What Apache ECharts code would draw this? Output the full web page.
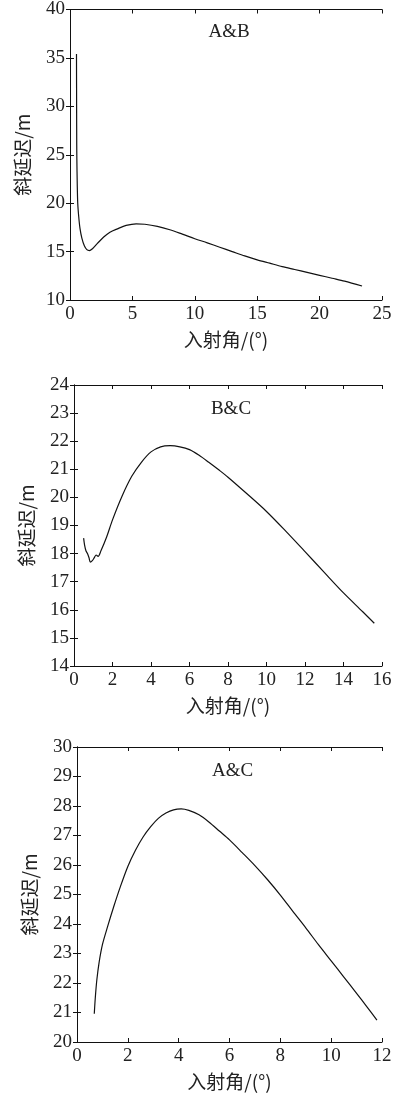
<!DOCTYPE html>
<html>
<head>
<meta charset="utf-8">
<script src="https://cdn.jsdelivr.net/npm/echarts@6/dist/echarts.min.js"></script>
<style>
  html, body { margin: 0; padding: 0; background: #fff; }
  #chart { width: 397px; height: 1094px; }
</style>
</head>
<body>
<div id="chart"></div>
<script>
// A&B
const abX = [0.52, 0.53, 0.54, 0.55, 0.58, 0.62, 0.7, 0.8, 0.95, 1.15, 1.35, 1.55, 1.8, 2.2, 2.7, 3.2, 3.8, 4.5, 5.3, 6.0, 7.0, 8.0, 9.0, 10.0, 11.0, 12.0, 13.0, 14.0, 15.0, 16.0, 17.0, 18.0, 19.0, 20.0, 21.0, 22.0, 23.4];
const abY = [35.4, 30.0, 26.0, 24.5, 22.0, 20.0, 18.6, 17.4, 16.4, 15.6, 15.2, 15.1, 15.3, 15.85, 16.5, 17.0, 17.35, 17.7, 17.87, 17.82, 17.6, 17.25, 16.8, 16.33, 15.9, 15.45, 15.0, 14.55, 14.15, 13.8, 13.45, 13.15, 12.85, 12.55, 12.25, 11.95, 11.45];
// B&C
const bcX = [0.5, 0.55, 0.62, 0.7, 0.78, 0.85, 0.95, 1.05, 1.15, 1.25, 1.4, 1.7, 2.0, 2.5, 3.0, 3.5, 4.0, 4.5, 5.0, 5.5, 6.0, 6.5, 7.0, 7.5, 8.0, 9.0, 10.0, 11.0, 12.0, 13.0, 14.0, 15.0, 15.6];
const bcY = [18.55, 18.3, 18.1, 18.0, 17.85, 17.7, 17.75, 17.85, 17.95, 17.9, 18.1, 18.6, 19.2, 20.05, 20.75, 21.25, 21.62, 21.8, 21.84, 21.8, 21.7, 21.5, 21.25, 20.99, 20.72, 20.12, 19.5, 18.8, 18.07, 17.33, 16.6, 15.93, 15.52];
// A&C
const acX = [0.68, 0.72, 0.78, 0.87, 1.0, 1.2, 1.45, 1.7, 2.0, 2.3, 2.6, 2.9, 3.2, 3.5, 3.8, 4.1, 4.4, 4.8, 5.2, 5.6, 6.0, 6.5, 7.0, 7.5, 8.0, 8.5, 9.0, 9.5, 10.0, 10.5, 11.0, 11.4, 11.8];
const acY = [20.96, 21.5, 22.1, 22.7, 23.3, 23.9, 24.6, 25.25, 25.95, 26.5, 26.95, 27.3, 27.58, 27.76, 27.87, 27.9, 27.85, 27.7, 27.45, 27.15, 26.85, 26.42, 25.98, 25.5, 24.98, 24.42, 23.87, 23.3, 22.75, 22.2, 21.65, 21.2, 20.74];

const titles = ['A&B', 'B&C', 'A&C'];
const xRanges = [[0, 25, 5], [0, 16, 2], [0, 12, 2]];
const yRanges = [[10, 40, 5], [14, 24, 1], [20, 30, 1]];
const xName = '入射角/(°)';
const yName = '斜延迟/m';

const grids = [
  { left: 70, top: 8, width: 312, height: 292 },
  { left: 74, top: 385, width: 308, height: 281 },
  { left: 77, top: 747, width: 305, height: 295 }
];

const numFont = { fontFamily: 'Liberation Serif', fontSize: 19, color: '#222' };
const nameFont = { fontFamily: 'Noto Sans CJK SC', fontSize: 19, color: '#222' };
const line = { lineStyle: { color: '#111', width: 1 } };

const xAxes = [], yAxes = [], series = [], titleList = [];
const sets = [[abX, abY], [bcX, bcY], [acX, acY]];

grids.forEach((g, i) => {
  const [x0, x1, xi] = xRanges[i];
  const [y0, y1, yi] = yRanges[i];
  xAxes.push({
    type: 'value', gridIndex: i, position: 'bottom', min: x0, max: x1, interval: xi,
    axisLine: line, splitLine: { show: false },
    axisTick: { inside: true, length: 4, lineStyle: { color: '#111' } },
    axisLabel: Object.assign({ margin: 5 }, numFont),
    name: xName, nameLocation: 'middle', nameGap: 30, nameTextStyle: nameFont
  });
  xAxes.push({
    type: 'value', gridIndex: i, position: 'top', min: x0, max: x1, interval: xi,
    axisLine: line, splitLine: { show: false },
    axisTick: { inside: true, length: 4, lineStyle: { color: '#111' } },
    axisLabel: { show: false }
  });
  yAxes.push({
    type: 'value', gridIndex: i, position: 'left', min: y0, max: y1, interval: yi,
    axisLine: line, splitLine: { show: false },
    axisTick: { inside: true, length: 4, lineStyle: { color: '#111' } },
    axisLabel: Object.assign({ margin: 5 }, numFont),
    name: yName, nameLocation: 'middle', nameGap: 38, nameTextStyle: nameFont
  });
  yAxes.push({
    type: 'value', gridIndex: i, position: 'right', min: y0, max: y1, interval: yi,
    axisLine: line, splitLine: { show: false },
    axisTick: { inside: true, length: 4, lineStyle: { color: '#111' } },
    axisLabel: { show: false }
  });
  const [xs, ys] = sets[i];
  series.push({
    type: 'line', xAxisIndex: i * 2, yAxisIndex: i * 2,
    data: xs.map((x, k) => [x, ys[k]]),
    showSymbol: false, smooth: 0.3,
    lineStyle: { color: '#111', width: 1.2 }
  });
  titleList.push({
    text: titles[i], left: g.left + g.width / 2 - 2, top: g.top + 10, textAlign: 'center',
    textStyle: { fontFamily: 'Liberation Serif', fontSize: 19, fontWeight: 'normal', color: '#222' }
  });
});

const chart = echarts.init(document.getElementById('chart'));
chart.setOption({
  animation: false,
  backgroundColor: '#fff',
  title: titleList,
  grid: grids,
  xAxis: xAxes,
  yAxis: yAxes,
  series: series
});
</script>
</body>
</html>
